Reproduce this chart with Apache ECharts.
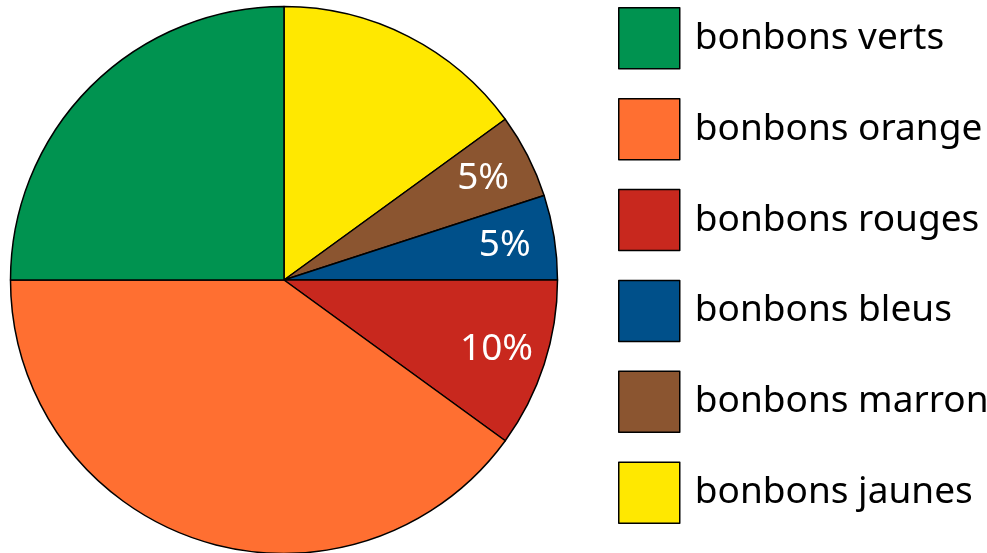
<!DOCTYPE html>
<html><head><meta charset="utf-8">
<script src="https://cdn.jsdelivr.net/npm/echarts@6/dist/echarts.min.js"></script>
<style>html,body{margin:0;padding:0;background:#fff}#c{width:987px;height:553px}</style>
</head><body><div id="c"></div>
<script>
// pie order, clockwise from the top
const categories = ['bonbons jaunes','bonbons marron','bonbons bleus','bonbons rouges','bonbons orange','bonbons verts'];
const values = [15, 5, 5, 10, 40, 25];
const percentLabels = ['', '5%', '5%', '10%', '', ''];
const colors = ['#FFE800','#8B5530','#00508A','#C8281E','#FF6F31','#009350'];
const legendOrder = ['bonbons verts','bonbons orange','bonbons rouges','bonbons bleus','bonbons marron','bonbons jaunes'];

const FONT = 'Noto Sans';
const chart = echarts.init(document.getElementById('c'));
const mainData = categories.map((n,i)=>({name:n,value:values[i],itemStyle:{color:colors[i]}}));
const labelData = categories.map((n,i)=>({name:n,value:values[i],label:{show:!!percentLabels[i],formatter:percentLabels[i]}}));
chart.setOption({
  animation:false,
  legend:{
    orient:'vertical', left:618, top:7, padding:0,
    itemWidth:61, itemHeight:61, itemGap:28.4,
    icon:'rect',
    data:legendOrder,
    selectedMode:false,
    textStyle:{fontFamily:FONT,fontSize:37,color:'#000',padding:[0,0,0,10]},
    itemStyle:{borderColor:'#000',borderWidth:1.5}
  },
  series:[{
    type:'pie', center:[284,280], radius:[0,273.5], startAngle:90, clockwise:true,
    label:{show:false}, labelLine:{show:false},
    itemStyle:{borderColor:'#000',borderWidth:1.5},
    emphasis:{disabled:true},
    data:mainData
  },{
    type:'pie', center:[284,280], radius:[168,273], startAngle:90, clockwise:true, silent:true,
    itemStyle:{color:'rgba(0,0,0,0)',borderWidth:0},
    label:{position:'inside',color:'#fff',fontFamily:FONT,fontSize:37},
    labelLine:{show:false},
    emphasis:{disabled:true},
    data:labelData
  }]
});
</script></body></html>
